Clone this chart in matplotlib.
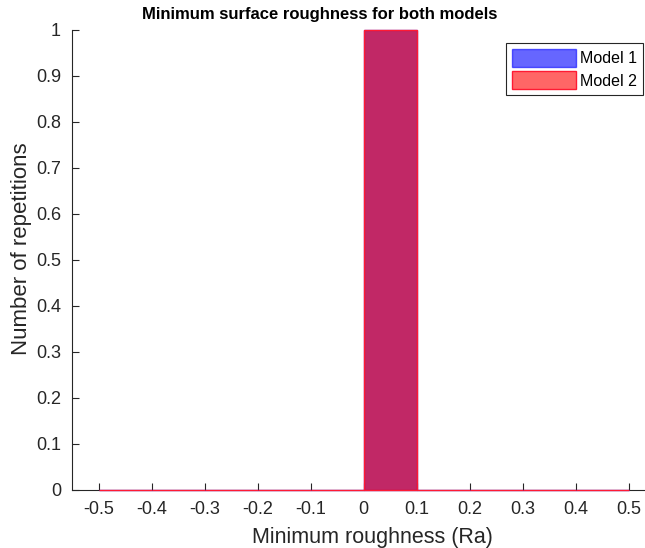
import numpy as np
import matplotlib.pyplot as plt

plt.rcParams['font.family'] = ['Liberation Sans', 'DejaVu Sans']

# histogram bins and counts
bin_edges = [-0.5, -0.4, -0.3, -0.2, -0.1, 0.0, 0.1, 0.2, 0.3, 0.4, 0.5]
counts_model1 = [0, 0, 0, 0, 0, 1, 0, 0, 0, 0]
counts_model2 = [0, 0, 0, 0, 0, 1, 0, 0, 0, 0]
labels = ['Model 1', 'Model 2']
xticks = [-0.5, -0.4, -0.3, -0.2, -0.1, 0, 0.1, 0.2, 0.3, 0.4, 0.5]
yticks = [0, 0.1, 0.2, 0.3, 0.4, 0.5, 0.6, 0.7, 0.8, 0.9, 1]

W, H = 645, 548
fig = plt.figure(figsize=(W/100, H/100), dpi=100)
ax = fig.add_axes([72/W, 58/H, 583/W, 460/H])

left = np.array(bin_edges[:-1])
w = np.diff(bin_edges)
ax.bar(left, counts_model1, width=w, align='edge', color=(0, 0, 1, 0.6),
       edgecolor=(0, 0, 1, 0.6), linewidth=1, label=labels[0], clip_on=False, zorder=3)
ax.bar(left, counts_model2, width=w, align='edge', color=(1, 0, 0, 0.6),
       edgecolor=(1, 0.1, 0.2), linewidth=1, label=labels[1], clip_on=False, zorder=3)

ax.set_xlim(-0.55, 0.55)
ax.set_ylim(0, 1)
ax.set_xticks(xticks)
ax.set_xticklabels([f'{t:g}' for t in xticks])
ax.set_yticks(yticks)
ax.set_yticklabels([f'{t:g}' for t in yticks])

for s in ['top', 'right']:
    ax.spines[s].set_visible(False)
for s in ['left', 'bottom']:
    ax.spines[s].set_color('#262626')
    ax.spines[s].set_linewidth(0.8)
ax.tick_params(direction='in', length=5, width=0.8, colors='#262626',
               labelsize=13, pad=8)

ax.set_xlabel('Minimum roughness (Ra)', fontsize=15.5, color='#262626')
ax.xaxis.set_label_coords(372/W, 1 - 537/H, transform=fig.transFigure)
ax.set_ylabel('Number of repetitions', fontsize=16, color='#262626')
ax.yaxis.set_label_coords(22/W, 1 - 249/H, transform=fig.transFigure)
ax.xaxis.label.set_va('center')
ax.yaxis.label.set_va('center')
fig.text(320/W, 1 - 14/H, 'Minimum surface roughness for both models',
         fontsize=12, fontweight='bold', ha='center', va='center')

leg = ax.legend(loc='upper right', bbox_to_anchor=(643/W, 1 - 43/H),
                bbox_transform=fig.transFigure, fontsize=11.5, fancybox=False,
                edgecolor='#262626', framealpha=1, handlelength=4.0,
                handleheight=1.4, borderaxespad=0, borderpad=0.35,
                labelspacing=0.25, handletextpad=0.3)
leg.get_frame().set_linewidth(0.8)

fig.savefig('out.png', dpi=100)
